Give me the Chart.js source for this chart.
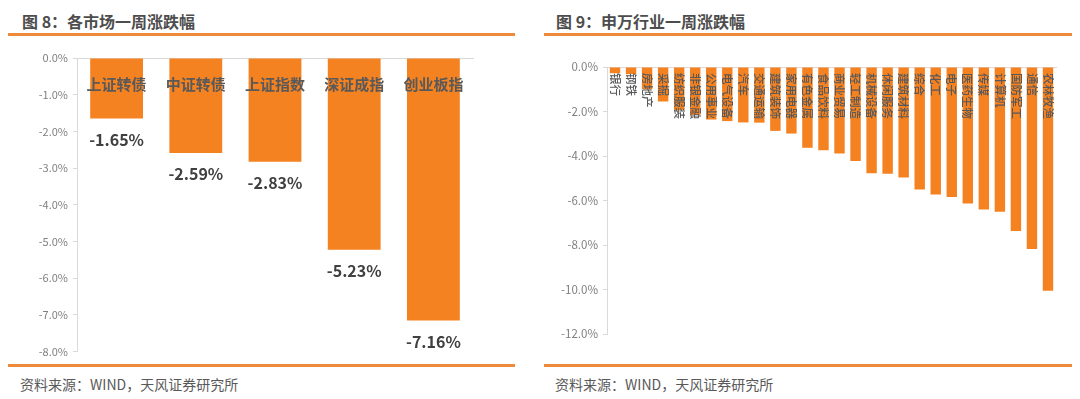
<!DOCTYPE html>
<html><head><meta charset="utf-8">
<script src="https://cdn.jsdelivr.net/npm/chart.js@4.4.1/dist/chart.umd.min.js"></script>
<style>
html,body{margin:0;padding:0;background:#fff;width:1080px;height:399px;overflow:hidden;font-family:"Noto Sans CJK SC","Noto Sans",sans-serif;}
.title{position:absolute;top:9px;font-size:16px;font-weight:bold;color:#4d4d4d;white-space:nowrap;}
.rule{position:absolute;height:3px;background:#EE8A3C;}
.src{position:absolute;top:374px;font-size:14px;color:#595959;white-space:nowrap;}
.box{position:absolute;}
</style></head><body>
<div class="title" style="left:22px">图 8：各市场一周涨跌幅</div>
<div class="title" style="left:556px">图 9：申万行业一周涨跌幅</div>
<div class="rule" style="left:8px;width:507px;top:33px"></div>
<div class="rule" style="left:544px;width:528px;top:33px"></div>
<div class="rule" style="left:8px;width:507px;top:364px"></div>
<div class="rule" style="left:544px;width:528px;top:364px"></div>
<div class="src" style="left:20px">资料来源：WIND，天风证券研究所</div>
<div class="src" style="left:555px">资料来源：WIND，天风证券研究所</div>
<div class="box" style="left:0;top:45px;width:520px;height:318px"><canvas id="c1"></canvas></div>
<div class="box" style="left:540px;top:54px;width:530px;height:292px"><canvas id="c2"></canvas></div>
<script>
const marketLabels = ["上证转债","中证转债","上证指数","深证成指","创业板指"];
const marketValues = [-1.65,-2.59,-2.83,-5.23,-7.16];
const industryLabels = ["银行","钢铁","房地产","采掘","纺织服装","非银金融","公用事业","电气设备","汽车","交通运输","建筑装饰","家用电器","有色金属","食品饮料","商业贸易","轻工制造","机械设备","休闲服务","建筑材料","综合","化工","电子","医药生物","传媒","计算机","国防军工","通信","农林牧渔"];
const industryValues = [-0.28,-0.32,-1.00,-1.55,-1.94,-2.16,-2.36,-2.43,-2.49,-2.50,-2.87,-2.99,-3.63,-3.74,-3.89,-4.22,-4.77,-4.80,-4.97,-5.50,-5.73,-5.84,-6.13,-6.40,-6.50,-7.37,-8.18,-10.05];

const ORANGE = "#F58220";
const FONT = '"Noto Sans CJK SC","Noto Sans",sans-serif';

const leftLabels = {
  id:'leftLabels',
  afterDatasetsDraw(chart){
    const ctx = chart.ctx, meta = chart.getDatasetMeta(0), top = chart.chartArea.top;
    ctx.save();
    ctx.textAlign='center'; ctx.textBaseline='middle';
    meta.data.forEach((bar,i)=>{
      ctx.font = 'bold 15px '+FONT; ctx.fillStyle='#595959';
      ctx.fillText(marketLabels[i], bar.x, top+26);
      ctx.font = 'bold 16px '+FONT; ctx.fillStyle='#404040';
      ctx.fillText(marketValues[i].toFixed(2)+'%', bar.x, bar.y+21);
    });
    ctx.restore();
  }
};
const rightLabels = {
  id:'rightLabels',
  afterDatasetsDraw(chart){
    const ctx = chart.ctx, meta = chart.getDatasetMeta(0), top = chart.chartArea.top;
    ctx.save();
    ctx.font = '500 11.5px '+FONT; ctx.fillStyle='#595959';
    ctx.textAlign='left'; ctx.textBaseline='middle';
    meta.data.forEach((bar,i)=>{
      ctx.save();
      ctx.translate(bar.x, top+6);
      ctx.rotate(Math.PI/2);
      ctx.fillText(industryLabels[i], 0, 0);
      ctx.restore();
    });
    ctx.restore();
  }
};

function makeChart(id, labels, values, ymin, step, yWidth, pad, barPct, plugin, tickSize){
  return new Chart(document.getElementById(id), {
    type:'bar',
    data:{labels:labels, datasets:[{data:values, backgroundColor:ORANGE, borderWidth:0, barPercentage:barPct, categoryPercentage:1}]},
    options:{
      responsive:true, maintainAspectRatio:false, animation:false,
      layout:{padding:pad},
      plugins:{legend:{display:false}, tooltip:{enabled:false}},
      scales:{
        x:{position:'top', ticks:{display:false}, grid:{display:false, drawTicks:false},
           border:{display:true, color:'#D9D9D9', width:1},
           afterFit(s){s.height=0;}},
        y:{min:ymin, max:0, ticks:{stepSize:step, color:'#7f7f7f', padding:5,
             font:{size:tickSize, family:FONT}, callback:v=>v.toFixed(1)+'%'},
           grid:{drawOnChartArea:false, drawTicks:true, tickLength:4, color:'#D9D9D9'},
           border:{display:true, color:'#D9D9D9', width:1},
           afterFit(s){s.width=yWidth;}}
      }
    },
    plugins:[plugin]
  });
}
makeChart('c1', marketLabels, marketValues, -8, 1, 77, {top:13,right:47,bottom:11,left:0}, 0.667, leftLabels, 11);
makeChart('c2', industryLabels, industryValues, -12, 2, 67, {top:13,right:14,bottom:9,left:0}, 0.65, rightLabels, 11.5);
</script>
</body></html>
